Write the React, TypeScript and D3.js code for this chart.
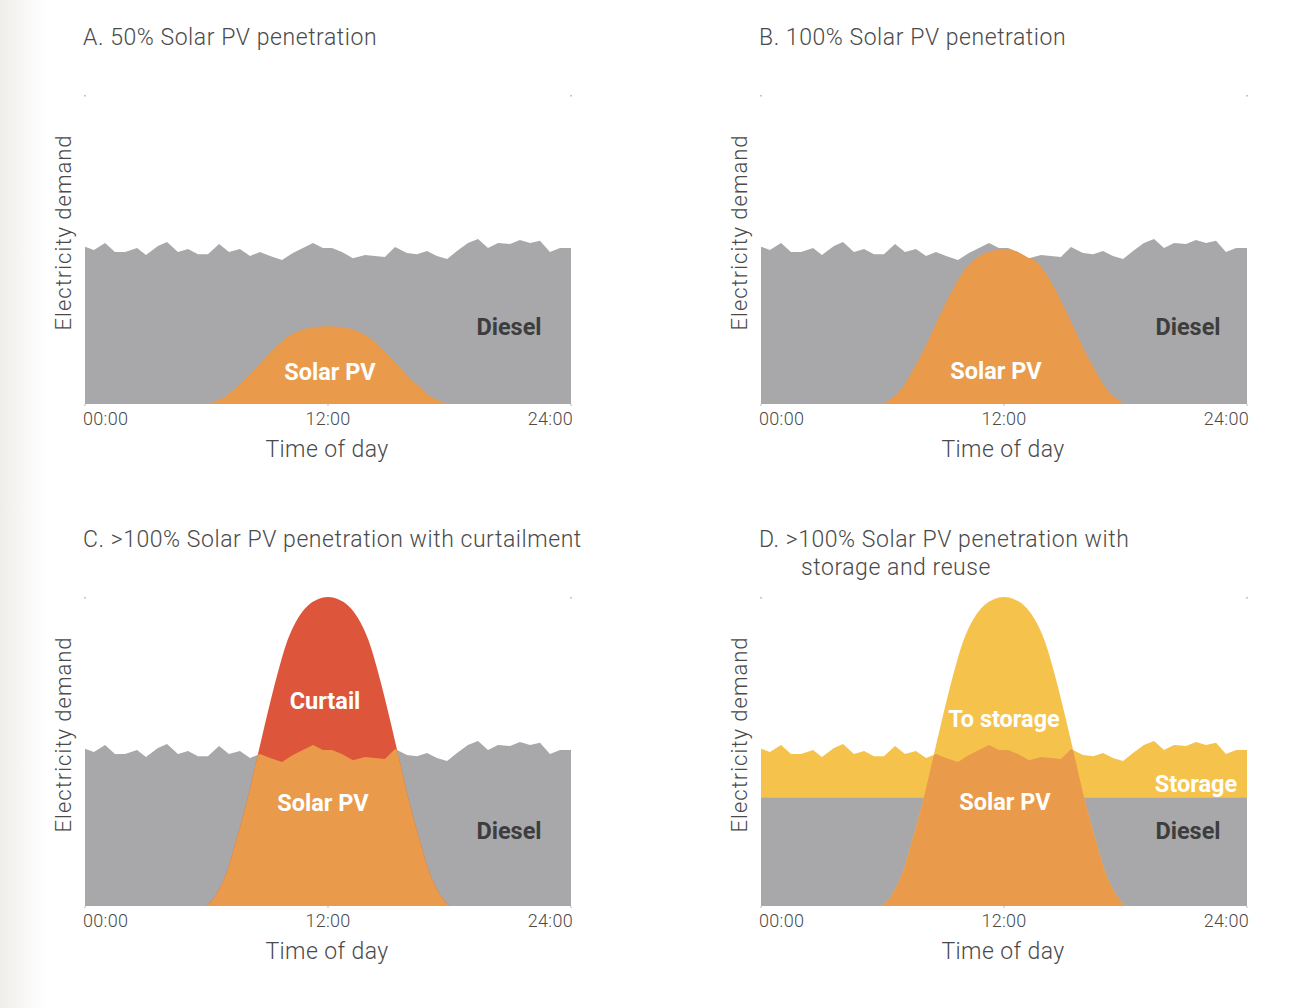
import React from "react";
import * as d3 from "d3";

// ---------- data ----------
const demandHours = [0, 0.44, 0.99, 1.48, 1.98, 2.57, 3.01, 3.6, 4.05, 4.59, 5.09, 5.58, 6.07, 6.62, 7.11, 7.65, 8.15, 8.64, 9.14, 9.73, 10.27, 10.96, 11.26, 11.75, 12.2, 12.69, 13.23, 13.83, 14.81, 15.31, 15.9, 16.4, 16.89, 17.38, 17.88, 18.37, 18.91, 19.41, 19.9, 20.4, 20.99, 21.48, 21.98, 22.47, 22.96, 23.46, 24];
const demandValues = [50.9, 49.8, 52.1, 49.2, 49.2, 50.5, 48.2, 51.1, 52.4, 49.2, 50.2, 48.5, 48.5, 51.8, 49.2, 50.2, 47.9, 49.2, 47.9, 46.6, 48.9, 51.1, 52.1, 50.5, 50.5, 49.2, 47.2, 48.2, 47.6, 50.8, 48.9, 48.5, 49.5, 47.9, 46.9, 49.5, 52.1, 53.4, 50.5, 52.1, 51.8, 53.1, 52.1, 52.8, 49.2, 50.5, 50.5];

const solarHours = [6, 6.5, 7, 7.5, 8, 8.5, 9, 9.5, 10, 10.5, 11, 11.5, 12, 12.5, 13, 13.5, 14, 14.5, 15, 15.5, 16, 16.5, 17, 17.5, 18];
const solarShape = [0, 0.04, 0.11, 0.22, 0.34, 0.48, 0.62, 0.75, 0.86, 0.93, 0.972, 0.993, 1, 0.993, 0.972, 0.93, 0.86, 0.75, 0.62, 0.48, 0.34, 0.22, 0.11, 0.04, 0];

const panelIds = ["A", "B", "C", "D"];
const solarPeaks = [25.2, 50, 100, 100];
const storageLevel = 35;

const titlesLine1 = [
  "A. 50% Solar PV penetration",
  "B. 100% Solar PV penetration",
  "C. >100% Solar PV penetration with curtailment",
  "D. >100% Solar PV penetration with",
];
const titlesLine2 = ["", "", "", "storage and reuse"];

const tickValues = [0, 12, 24];
const tickLabels = ["00:00", "12:00", "24:00"];

// ---------- style ----------
const GRAY = "#a8a8ab";
const ORANGE = "#e99b4b";
const RED = "#dd563b";
const YELLOW = "#f5c34b";
const DARK = "#3d3d3d";
const TEXT = "#4a4a4a";
const FONT = "Roboto, 'Open Sans', sans-serif";

const W = 486;
const H = 309;
const origins: [number, number][] = [
  [85, 95],
  [761, 95],
  [85, 597],
  [761, 597],
];

type Pt = { h: number; v: number };

const demand: Pt[] = demandHours.map((h, i) => ({ h, v: demandValues[i] }));

function Panel({ idx }: { idx: number }) {
  const [ox, oy] = origins[idx];
  const id = panelIds[idx];
  const x = d3.scaleLinear().domain([0, 24]).range([0, W]);
  const y = d3.scaleLinear().domain([0, 100]).range([H, 0]);
  const peak = solarPeaks[idx];
  const solar: Pt[] = solarHours.map((h, i) => ({ h, v: solarShape[i] * peak }));

  const demandArea = d3
    .area<Pt>()
    .x((d) => x(d.h))
    .y0(y(0))
    .y1((d) => y(d.v))(demand) as string;

  const storageArea = d3
    .area<Pt>()
    .x((d) => x(d.h))
    .y0(y(0))
    .y1(y(storageLevel))(demand) as string;

  const solarArea = d3
    .area<Pt>()
    .x((d) => x(d.h))
    .y0(y(0))
    .y1((d) => y(d.v))
    .curve(d3.curveMonotoneX)(solar) as string;

  const labelStyle = {
    fontFamily: FONT,
    fontWeight: 700,
    fontSize: 23.5,
  } as const;

  return (
    <g>
      <text x={ox - 2} y={oy - 50} fontFamily={FONT} fontWeight={300} fontSize={23} letterSpacing={0.55} fill={TEXT}>
        {titlesLine1[idx]}
      </text>
      {titlesLine2[idx] && (
        <text x={ox + 40} y={oy - 22} fontFamily={FONT} fontWeight={300} fontSize={23} letterSpacing={0.55} fill={TEXT}>
          {titlesLine2[idx]}
        </text>
      )}
      <g transform={`translate(${ox},${oy})`}>
        <defs>
          <clipPath id={`clip-demand-${id}`}>
            <path d={demandArea} />
          </clipPath>
        </defs>
        {idx === 3 ? (
          <>
            <path d={demandArea} fill={YELLOW} />
            <path d={storageArea} fill={GRAY} />
          </>
        ) : (
          <path d={demandArea} fill={GRAY} />
        )}
        {idx === 2 && <path d={solarArea} fill={RED} />}
        {idx === 3 && <path d={solarArea} fill={YELLOW} />}
        <path d={solarArea} fill={ORANGE} clipPath={`url(#clip-demand-${id})`} />

        {/* corner marks */}
        <line x1={x(0)} x2={x(0)} y1={y(100)} y2={y(100) + 1.5} stroke="#888" strokeWidth={1} />
        <line x1={x(24)} x2={x(24)} y1={y(100)} y2={y(100) + 1.5} stroke="#888" strokeWidth={1} />
        {tickValues.map((t) => (
          <line key={t} x1={x(t)} x2={x(t)} y1={H} y2={H + 2} stroke="#bbb" strokeWidth={1} />
        ))}

        {tickValues.map((t, i) => (
          <text
            key={`tl${t}`}
            x={x(t) + (i === 0 ? -2 : i === 2 ? 2 : 0)}
            y={H + 21}
            textAnchor={i === 0 ? "start" : i === 2 ? "end" : "middle"}
            fontFamily={FONT}
            fontWeight={300}
            fontSize={18}
            letterSpacing={0.3}
            fill={TEXT}
          >
            {tickLabels[i]}
          </text>
        ))}
        <text x={x(12) - 1} y={H + 53} textAnchor="middle" fontFamily={FONT} fontWeight={300} fontSize={23} letterSpacing={0.4} fill={TEXT}>
          Time of day
        </text>
        <text
          transform={`translate(-14,${137.5})rotate(-90)`}
          textAnchor="middle"
          fontFamily={FONT}
          fontWeight={300}
          fontSize={22}
          letterSpacing={1}
          fill={TEXT}
        >
          Electricity demand
        </text>

        {/* labels */}
        {idx === 0 && (
          <>
            <text x={424} y={240} textAnchor="middle" {...labelStyle} fill={DARK}>Diesel</text>
            <text x={245} y={285} textAnchor="middle" {...labelStyle} fill="#fff">Solar PV</text>
          </>
        )}
        {idx === 1 && (
          <>
            <text x={427} y={240} textAnchor="middle" {...labelStyle} fill={DARK}>Diesel</text>
            <text x={235} y={284} textAnchor="middle" {...labelStyle} fill="#fff">Solar PV</text>
          </>
        )}
        {idx === 2 && (
          <>
            <text x={240} y={112} textAnchor="middle" {...labelStyle} fill="#fff">Curtail</text>
            <text x={238} y={214} textAnchor="middle" {...labelStyle} fill="#fff">Solar PV</text>
            <text x={424} y={242} textAnchor="middle" {...labelStyle} fill={DARK}>Diesel</text>
          </>
        )}
        {idx === 3 && (
          <>
            <text x={243} y={130} textAnchor="middle" {...labelStyle} fill="#fff">To storage</text>
            <text x={435} y={195} textAnchor="middle" {...labelStyle} fill="#fff">Storage</text>
            <text x={244} y={213} textAnchor="middle" {...labelStyle} fill="#fff">Solar PV</text>
            <text x={427} y={242} textAnchor="middle" {...labelStyle} fill={DARK}>Diesel</text>
          </>
        )}
      </g>
    </g>
  );
}

export default function App() {
  return (
    <svg
      width={1304}
      height={1008}
      style={{ position: "absolute", left: 0, top: 0, background: "#fff" }}
    >
      <defs>
        <linearGradient id="edge" x1="0" x2="1" y1="0" y2="0">
          <stop offset="0" stopColor="#efeeea" />
          <stop offset="1" stopColor="#ffffff" />
        </linearGradient>
      </defs>
      <rect x={0} y={0} width={45} height={1008} fill="url(#edge)" />
      {panelIds.map((_, i) => (
        <Panel key={i} idx={i} />
      ))}
    </svg>
  );
}
